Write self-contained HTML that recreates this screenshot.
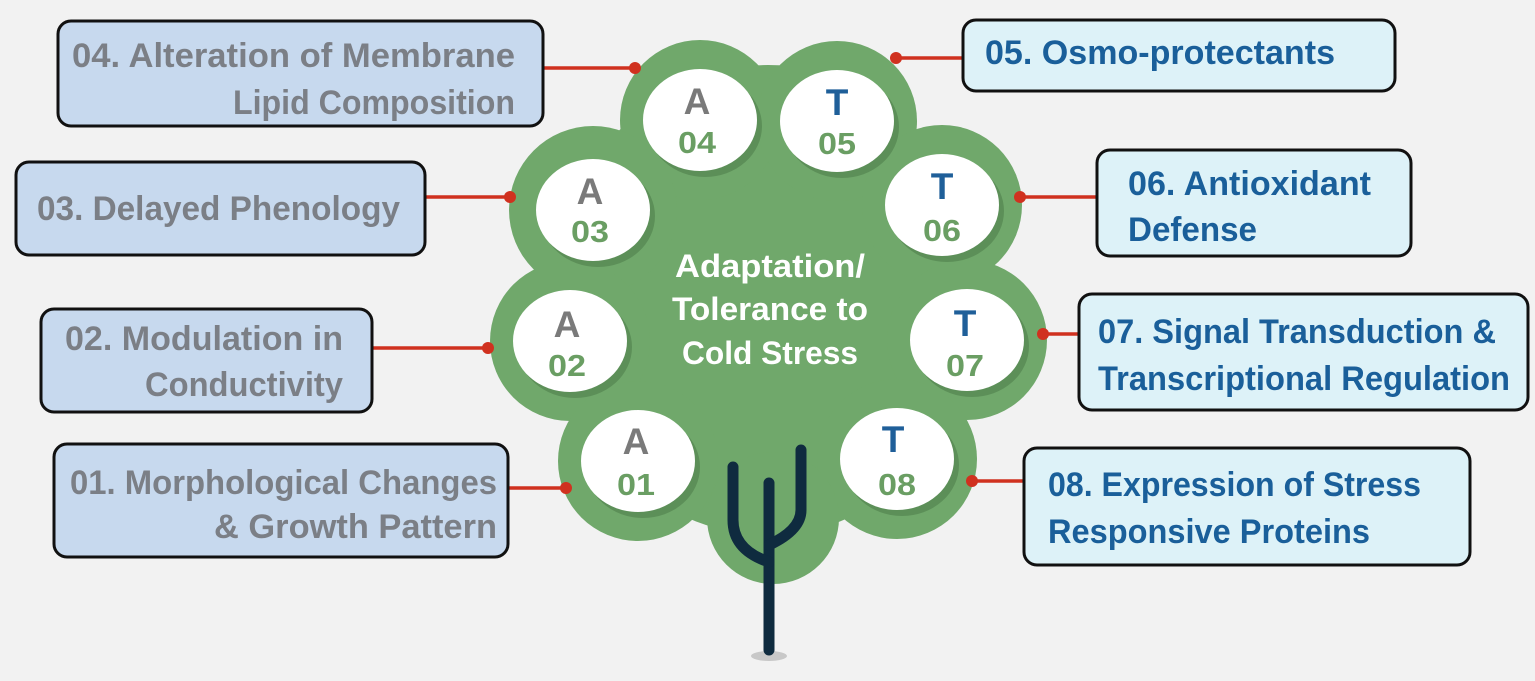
<!DOCTYPE html>
<html><head><meta charset="utf-8"><style>
html,body{margin:0;padding:0;background:#f2f2f2;}
svg{display:block;}
text{font-family:"Liberation Sans",sans-serif;font-weight:bold;}
</style></head><body>
<svg width="1535" height="681" viewBox="0 0 1535 681" xmlns="http://www.w3.org/2000/svg">
<rect width="1535" height="681" fill="#f2f2f2"/>
<g fill="#70a86b">
<ellipse cx="768" cy="300" rx="215" ry="235"/>
<circle cx="700" cy="120" r="80"/>
<circle cx="837" cy="121" r="80"/>
<circle cx="593" cy="210" r="84"/>
<circle cx="942" cy="205" r="80"/>
<circle cx="570" cy="341" r="80"/>
<circle cx="967" cy="340" r="80"/>
<circle cx="638" cy="461" r="80"/>
<circle cx="897" cy="459" r="80"/>
<circle cx="773" cy="518" r="66"/>
</g>
<ellipse cx="769" cy="656" rx="18" ry="5" fill="#c8c8c8"/>
<g fill="none" stroke="#0f2b3f" stroke-width="11" stroke-linecap="round">
<path d="M769 483 L769 650"/>
<path d="M733 467 L733 520 Q733 550 769 562"/>
<path d="M801 450 L801 510 Q801 530 769 545"/>
</g>
<g fill="#5c8f58">
<ellipse cx="705" cy="126" rx="57" ry="51"/>
<ellipse cx="842" cy="127" rx="57" ry="51"/>
<ellipse cx="598" cy="216" rx="57" ry="51"/>
<ellipse cx="947" cy="211" rx="57" ry="51"/>
<ellipse cx="575" cy="347" rx="57" ry="51"/>
<ellipse cx="972" cy="346" rx="57" ry="51"/>
<ellipse cx="643" cy="467" rx="57" ry="51"/>
<ellipse cx="902" cy="465" rx="57" ry="51"/>
</g>
<g fill="#ffffff">
<ellipse cx="700" cy="120" rx="57" ry="51"/>
<ellipse cx="837" cy="121" rx="57" ry="51"/>
<ellipse cx="593" cy="210" rx="57" ry="51"/>
<ellipse cx="942" cy="205" rx="57" ry="51"/>
<ellipse cx="570" cy="341" rx="57" ry="51"/>
<ellipse cx="967" cy="340" rx="57" ry="51"/>
<ellipse cx="638" cy="461" rx="57" ry="51"/>
<ellipse cx="897" cy="459" rx="57" ry="51"/>
</g>
<g text-anchor="middle" font-size="37">
<text x="697" y="114" fill="#7a7a7a">A</text>
<text x="837" y="115" fill="#1f5f99">T</text>
<text x="590" y="204" fill="#7a7a7a">A</text>
<text x="942" y="199" fill="#1f5f99">T</text>
<text x="567" y="337" fill="#7a7a7a">A</text>
<text x="965" y="336" fill="#1f5f99">T</text>
<text x="636" y="454" fill="#7a7a7a">A</text>
<text x="893" y="452" fill="#1f5f99">T</text>
</g>
<g text-anchor="middle" font-size="31" fill="#6a9e63">
<text x="697" y="153" textLength="38" lengthAdjust="spacingAndGlyphs">04</text>
<text x="837" y="154" textLength="38" lengthAdjust="spacingAndGlyphs">05</text>
<text x="590" y="242" textLength="38" lengthAdjust="spacingAndGlyphs">03</text>
<text x="942" y="241" textLength="38" lengthAdjust="spacingAndGlyphs">06</text>
<text x="567" y="376" textLength="38" lengthAdjust="spacingAndGlyphs">02</text>
<text x="965" y="376" textLength="38" lengthAdjust="spacingAndGlyphs">07</text>
<text x="636" y="495" textLength="38" lengthAdjust="spacingAndGlyphs">01</text>
<text x="897" y="495" textLength="38" lengthAdjust="spacingAndGlyphs">08</text>
</g>
<g text-anchor="middle" font-size="32" fill="#ffffff">
<text x="770" y="277" textLength="190" lengthAdjust="spacingAndGlyphs">Adaptation/</text>
<text x="770" y="320" textLength="196" lengthAdjust="spacingAndGlyphs">Tolerance to</text>
<text x="770" y="364" textLength="176" lengthAdjust="spacingAndGlyphs">Cold Stress</text>
</g>
<g stroke="#d0311f" stroke-width="3.5" fill="#d0311f">
<line x1="543" y1="68" x2="635" y2="68"/><circle cx="635" cy="68" r="6" stroke="none"/>
<line x1="425" y1="197" x2="510" y2="197"/><circle cx="510" cy="197" r="6" stroke="none"/>
<line x1="372" y1="348" x2="488" y2="348"/><circle cx="488" cy="348" r="6" stroke="none"/>
<line x1="508" y1="488" x2="566" y2="488"/><circle cx="566" cy="488" r="6" stroke="none"/>
<line x1="896" y1="58" x2="962" y2="58"/><circle cx="896" cy="58" r="6" stroke="none"/>
<line x1="1020" y1="197" x2="1096" y2="197"/><circle cx="1020" cy="197" r="6" stroke="none"/>
<line x1="1043" y1="334" x2="1078" y2="334"/><circle cx="1043" cy="334" r="6" stroke="none"/>
<line x1="972" y1="481" x2="1023" y2="481"/><circle cx="972" cy="481" r="6" stroke="none"/>
</g>
<g fill="#c7d9ee" stroke="#111" stroke-width="3">
<rect x="58" y="21" width="485" height="105" rx="13"/>
<rect x="16" y="162" width="409" height="93" rx="13"/>
<rect x="41" y="309" width="331" height="103" rx="13"/>
<rect x="54" y="444" width="454" height="113" rx="13"/>
</g>
<g fill="#7b7f86" font-size="34" text-anchor="end">
<text x="515" y="67" textLength="443" lengthAdjust="spacingAndGlyphs">04. Alteration of Membrane</text>
<text x="515" y="114" textLength="282" lengthAdjust="spacingAndGlyphs">Lipid Composition</text>
<text x="400" y="220" textLength="363" lengthAdjust="spacingAndGlyphs">03. Delayed Phenology</text>
<text x="343" y="350" textLength="278" lengthAdjust="spacingAndGlyphs">02. Modulation in</text>
<text x="343" y="396" textLength="198" lengthAdjust="spacingAndGlyphs">Conductivity</text>
<text x="497" y="494" textLength="427" lengthAdjust="spacingAndGlyphs">01. Morphological Changes</text>
<text x="497" y="538" textLength="283" lengthAdjust="spacingAndGlyphs">&amp; Growth Pattern</text>
</g>
<g fill="#ddf2f8" stroke="#111" stroke-width="3">
<rect x="963" y="20" width="432" height="71" rx="13"/>
<rect x="1097" y="150" width="314" height="106" rx="13"/>
<rect x="1079" y="294" width="449" height="116" rx="13"/>
<rect x="1024" y="448" width="446" height="117" rx="13"/>
</g>
<g fill="#1a5f9a" font-size="34">
<text x="985" y="64" textLength="350" lengthAdjust="spacingAndGlyphs">05. Osmo-protectants</text>
<text x="1128" y="195" textLength="243" lengthAdjust="spacingAndGlyphs">06. Antioxidant</text>
<text x="1128" y="241" textLength="129" lengthAdjust="spacingAndGlyphs">Defense</text>
<text x="1098" y="343" textLength="398" lengthAdjust="spacingAndGlyphs">07. Signal Transduction &amp;</text>
<text x="1098" y="390" textLength="412" lengthAdjust="spacingAndGlyphs">Transcriptional Regulation</text>
<text x="1048" y="496" textLength="373" lengthAdjust="spacingAndGlyphs">08. Expression of Stress</text>
<text x="1048" y="543" textLength="322" lengthAdjust="spacingAndGlyphs">Responsive Proteins</text>
</g>
</svg>
</body></html>
